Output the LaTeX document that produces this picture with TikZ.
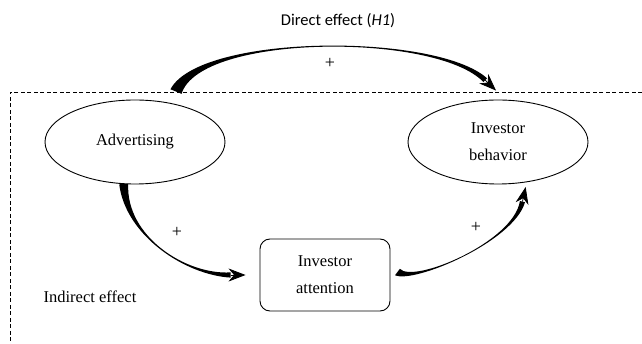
\documentclass[tikz,border=0pt]{standalone}
\usepackage{fontspec}
\setmainfont{Liberation Serif}
\newfontfamily\calibrifont{Carlito}
\usetikzlibrary{arrows.meta,shapes.geometric,calc}

% tapered connector: #1 start, #2 #3 controls, #4 tip, #5 #6 half widths
\newcommand{\taperarrow}[6]{%
  \coordinate (tb) at ($(#4)!15pt!(#3)$);
  \fill ($(#1)!#5!90:(#2)$) .. controls (#2) and (#3) .. ($(tb)!#6!-90:(#3)$)
        -- ($(tb)!#6!90:(#3)$) .. controls (#3) and (#2) .. ($(#1)!#5!-90:(#2)$) -- cycle;
  \draw (tb) -- (#4);}

\begin{document}
\begin{tikzpicture}[x=1pt,y=-1pt,->,>={Stealth[length=17pt,width=13pt]},
                    line width=0.8pt,node distance=363pt,
                    font=\fontsize{16.5}{27}\selectfont]

  \tikzstyle{construct}=[ellipse,draw,-,line width=0.9pt,align=center,
                        minimum width=180pt,minimum height=84pt]
  \tikzstyle{mediator}=[rectangle,draw,-,line width=0.9pt,align=center,
                        rounded corners=10pt,minimum width=130pt,minimum height=72pt]
  \tikzstyle{plussign}=[font=\fontsize{18}{18}\selectfont,inner sep=1pt]

  \useasboundingbox (0,0) rectangle (642,344);
  \draw[-,line width=0.9pt,dash pattern=on 4pt off 2.5pt] (642,92) -- (10,92) -- (10,344);

  \node[construct] (adv) at (135,142) {Advertising};
  \node[construct] (beh) [right of=adv] {Investor\\behavior};
  \node[mediator] (att) [node distance=133pt,below of=adv,xshift=190pt] {Investor\\attention};

  \node[font=\calibrifont\fontsize{16.5}{20}\selectfont] (direct) at (338,21) {Direct effect (\textit{H1})};
  \node (indirect) at (90,297) {Indirect effect};

  % direct effect
  \coordinate (dstart) at ([shift={(41,-8)}]adv.north);
  \coordinate (dend)   at ([shift={(-2,-9)}]beh.north);
  \coordinate (dc1)    at ([shift={(24,-58)}]dstart);
  \coordinate (dc2)    at ([shift={(-60,-58)}]dend);
  \taperarrow{dstart}{dc1}{dc2}{dend}{6pt}{2.6pt}
  \node[plussign] (dplus) at (330,63) {+};

  % indirect effect
  \coordinate (astart) at (adv.255);
  \coordinate (aend)   at ([xshift=-14pt]att.west);
  \coordinate (ac1)    at ([shift={(2,52)}]astart);
  \coordinate (ac2)    at ([shift={(-60,0)}]aend);
  \taperarrow{astart}{ac1}{ac2}{aend}{4.5pt}{2.6pt}
  \node[plussign] (aplus) at (177,232) {+};

  \coordinate (istart) at ([shift={(7,-3)}]att.east);
  \coordinate (iend)   at ([shift={(4,4)}]beh.300);
  \coordinate (ic1)    at ([shift={(16,12)}]istart);
  \coordinate (ic2)    at ([shift={(-12,55)}]iend);
  \taperarrow{istart}{ic1}{ic2}{iend}{4pt}{2.6pt}
  \node[plussign] (iplus) at (476,227) {+};
\end{tikzpicture}
\end{document}
